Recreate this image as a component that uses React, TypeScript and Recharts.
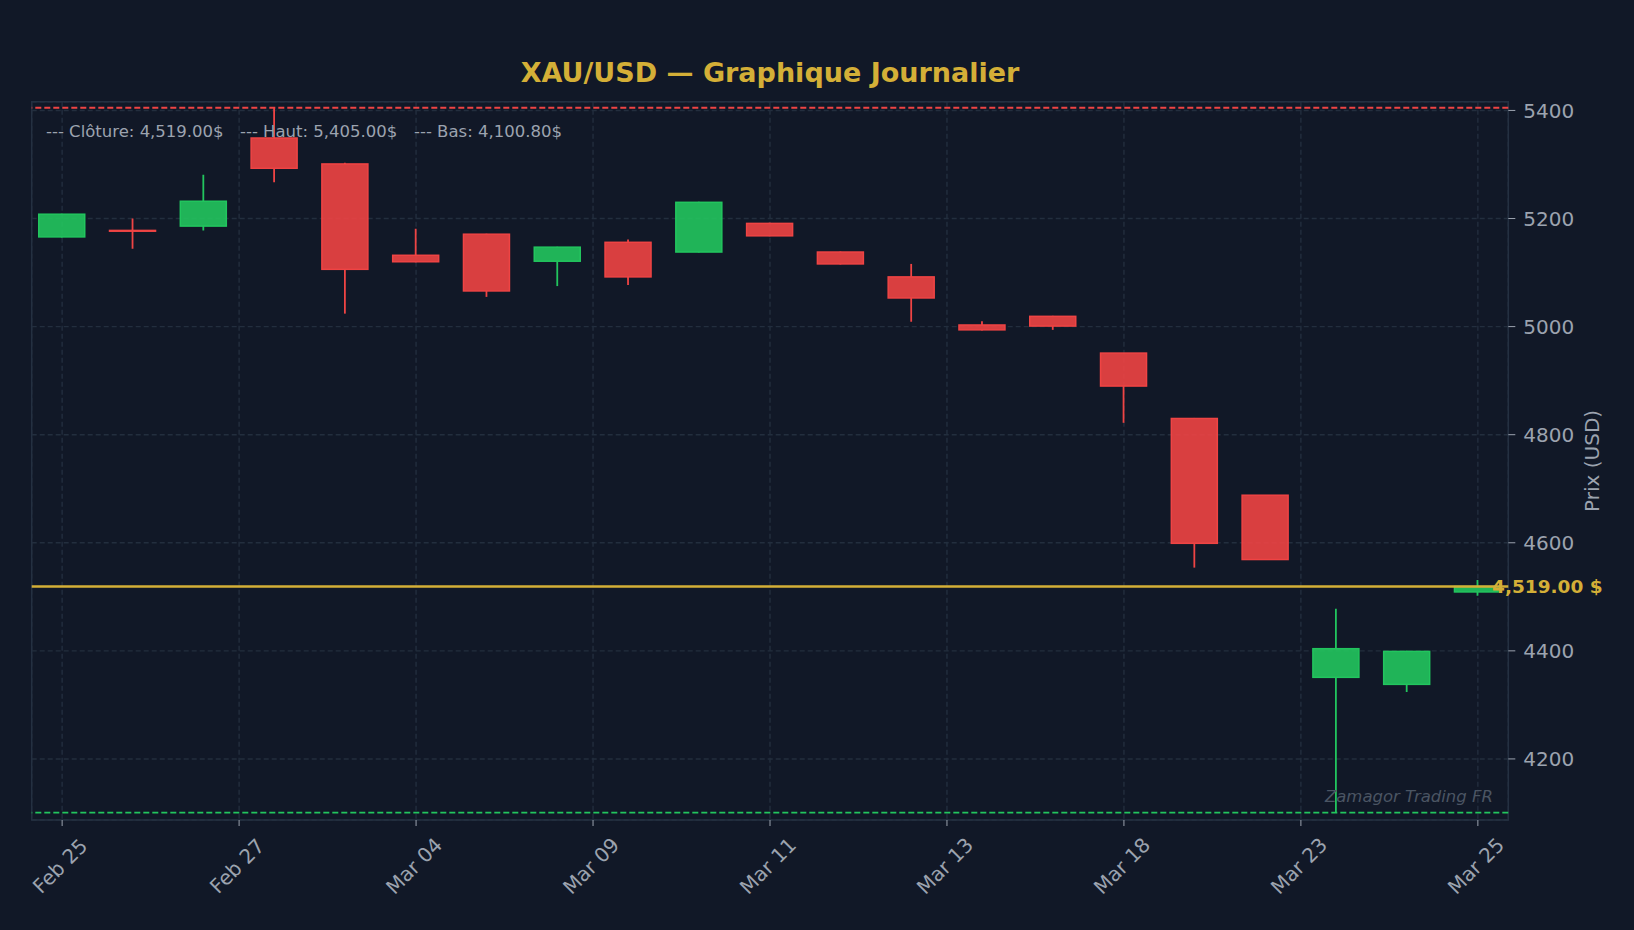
import {
    Bar,
    CartesianGrid,
    ComposedChart,
    ReferenceArea,
    ReferenceDot,
    ReferenceLine,
    XAxis,
    YAxis,
} from 'recharts';

// Daily OHLC (index 0 = Feb 25)
const opens = [5166, 5178, 5186, 5349, 5301, 5132, 5171, 5121, 5156, 5138, 5191, 5138, 5092, 5003, 5019, 4951, 4830, 4688, 4351, 4338, 4509];
const highs = [5209, 5200, 5281, 5405, 5303, 5181, 5172, 5148, 5161, 5231, 5192, 5139, 5116, 5010, 5020, 4951, 4831, 4688, 4478, 4400, 4531];
const lows = [5165, 5144, 5178, 5267, 5024, 5119, 5055, 5075, 5077, 5137, 5167, 5115, 5009, 4993, 4994, 4822, 4554, 4569, 4100.8, 4324, 4502];
const closes = [5208, 5177, 5232, 5293, 5106, 5120, 5066, 5147, 5092, 5230, 5168, 5116, 5053, 4994, 5001, 4890, 4599, 4569, 4404, 4399, 4519];

const tickPositions = [0, 2.5, 5, 7.5, 10, 12.5, 15, 17.5, 20];
const tickLabels = ['Feb 25', 'Feb 27', 'Mar 04', 'Mar 09', 'Mar 11', 'Mar 13', 'Mar 18', 'Mar 23', 'Mar 25'];
const priceTicks = [4200, 4400, 4600, 4800, 5000, 5200, 5400];

const lastClose = 4519;
const periodHigh = 5405;
const periodLow = 4100.8;

const BG = '#111827';
const GRID = '#232e3e';
const SPINE = '#243041';
const MUTED = '#9ca3af';
const GOLD = '#d4af37';
const GREEN = '#22c55e';
const RED = '#ef4444';
const FONT = '"DejaVu Sans", sans-serif';

const X_DOMAIN: [number, number] = [-0.43, 20.43];
const Y_DOMAIN: [number, number] = [4087, 5416];

const data = opens.map((open, i) => ({
    idx: i,
    open,
    high: highs[i],
    low: lows[i],
    close: closes[i],
    range: [lows[i], highs[i]],
}));

function Candle(props: any) {
    const { x, y, width, height, payload } = props;
    if (!payload || height == null) return null;
    const { open, close, high, low } = payload;
    const color = close >= open ? GREEN : RED;
    const k = height / (high - low);
    const bodyTop = y + (high - Math.max(open, close)) * k;
    const bodyH = Math.max(Math.abs(close - open) * k, 0.8);
    const cx = x + width / 2;
    return (
        <g>
            <line x1={cx} x2={cx} y1={y} y2={bodyTop} stroke={color} strokeWidth={1.8} />
            <line x1={cx} x2={cx} y1={bodyTop + bodyH} y2={y + height} stroke={color} strokeWidth={1.8} />
            <rect
                x={x}
                y={bodyTop}
                width={width}
                height={bodyH}
                fill={color}
                fillOpacity={0.9}
                stroke={color}
                strokeWidth={1.5}
            />
        </g>
    );
}

function DateTick(props: any) {
    const { x, y, payload } = props;
    const label = tickLabels[tickPositions.indexOf(payload.value)] ?? '';
    const cx = x - 2;
    const cy = y + 40;
    return (
        <text
            x={cx}
            y={cy}
            textAnchor="middle"
            dominantBaseline="central"
            transform={`rotate(-45 ${cx} ${cy})`}
            fill={MUTED}
            fontSize={20}
            fontFamily={FONT}
        >
            {label}
        </text>
    );
}

function PriceAxisLabel(props: any) {
    const { viewBox } = props;
    const cx = viewBox.x + 84;
    const cy = viewBox.y + viewBox.height / 2;
    return (
        <text
            x={cx}
            y={cy}
            textAnchor="middle"
            dominantBaseline="central"
            transform={`rotate(-90 ${cx} ${cy})`}
            fill={MUTED}
            fontSize={20}
            fontFamily={FONT}
        >
            Prix (USD)
        </text>
    );
}

function CloseLabel(props: any) {
    const { viewBox } = props;
    return (
        <text
            x={viewBox.x}
            y={viewBox.y + viewBox.height / 2}
            dominantBaseline="central"
            fill={GOLD}
            fontSize={18.5}
            fontWeight="bold"
            fontFamily={FONT}
        >
            {lastClose.toLocaleString('en-US', { minimumFractionDigits: 2 })} $
        </text>
    );
}

const fmt = (v: number) => v.toLocaleString('en-US', { minimumFractionDigits: 2, maximumFractionDigits: 2 });

export default function App() {
    return (
        <div style={{ position: 'absolute', left: 0, top: 0, width: 1634, height: 930, background: BG }}>
            <ComposedChart
                width={1634}
                height={930}
                data={data}
                margin={{ top: 101.8, right: 0, bottom: 0, left: 31.7 }}
            >
                <CartesianGrid stroke={GRID} strokeDasharray="5 3" strokeWidth={1.4} />
                <XAxis
                    dataKey="idx"
                    type="number"
                    domain={X_DOMAIN}
                    allowDataOverflow
                    ticks={tickPositions}
                    interval={0}
                    height={110}
                    tickSize={6}
                    tickMargin={0}
                    axisLine={false}
                    tickLine={{ stroke: MUTED }}
                    tick={<DateTick />}
                />
                <YAxis
                    orientation="right"
                    type="number"
                    domain={Y_DOMAIN}
                    allowDataOverflow
                    ticks={priceTicks}
                    interval={0}
                    width={125.7}
                    tickSize={7}
                    tickMargin={8}
                    axisLine={false}
                    tickLine={{ stroke: MUTED }}
                    tick={{ fill: MUTED, fontSize: 20, fontFamily: FONT, textAnchor: 'start' }}
                    label={<PriceAxisLabel />}
                />
                <ReferenceArea
                    x1={X_DOMAIN[0]}
                    x2={X_DOMAIN[1]}
                    y1={Y_DOMAIN[0]}
                    y2={Y_DOMAIN[1]}
                    fill="none"
                    stroke={SPINE}
                    strokeWidth={1.5}
                />
                <ReferenceLine y={periodHigh} stroke={RED} strokeDasharray="6 3" strokeWidth={1.8} />
                <ReferenceLine y={periodLow} stroke={GREEN} strokeDasharray="6 3" strokeWidth={1.8} />
                <Bar dataKey="range" barSize={46} shape={<Candle />} isAnimationActive={false} />
                <ReferenceLine y={lastClose} stroke={GOLD} strokeWidth={2.6} />
                <ReferenceDot x={20.2} y={lastClose} r={0} fill="none" stroke="none" label={<CloseLabel />} />
            </ComposedChart>
            <svg
                width={1634}
                height={930}
                style={{ position: 'absolute', left: 0, top: 0, pointerEvents: 'none' }}
            >
                <text x={770} y={82} textAnchor="middle" fill={GOLD} fontSize={27} fontWeight="bold" fontFamily={FONT}>
                    XAU/USD — Graphique Journalier
                </text>
                <text x={46} y={137} fill={MUTED} fontSize={16.5} fontFamily={FONT}>
                    --- Clôture: {fmt(lastClose)}$
                </text>
                <text x={240} y={137} fill={MUTED} fontSize={16.5} fontFamily={FONT}>
                    --- Haut: {fmt(periodHigh)}$
                </text>
                <text x={414} y={137} fill={MUTED} fontSize={16.5} fontFamily={FONT}>
                    --- Bas: {fmt(periodLow)}$
                </text>
                <text x={1493} y={802} textAnchor="end" fill="#4b5563" fontSize={16.5} fontStyle="italic" fontFamily={FONT}>
                    Zamagor Trading FR
                </text>
            </svg>
        </div>
    );
}
